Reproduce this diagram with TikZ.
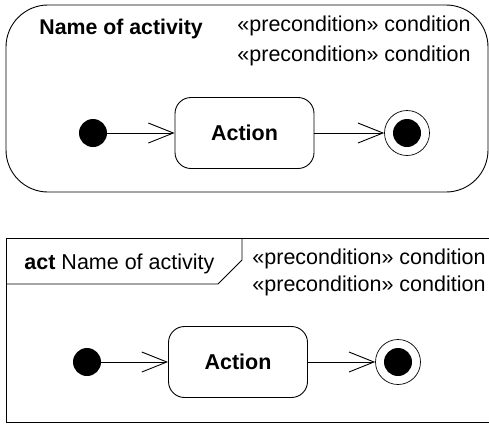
\documentclass[tikz,border=0pt]{standalone}
\usepackage{fontspec}
\setmainfont{Liberation Sans}
\usetikzlibrary{arrows.meta}

\begin{document}
\begin{tikzpicture}[x=1pt,y=-1pt,>={Straight Barb[length=25pt,width=20pt]},
  line width=0.9pt,
  txt/.style={font=\fontsize{21.5}{26}\selectfont,inner sep=0pt},
  startdot/.style={circle,fill,minimum size=28pt,inner sep=0pt},
  enddot/.style={circle,draw,line width=0.7pt,minimum size=45pt,inner sep=0pt,
    path picture={\fill (path picture bounding box.center) circle (14pt);}},
  actbox/.style={draw,rounded corners=16pt,minimum width=139pt,minimum height=71pt,
    font=\fontsize{21.5}{26}\selectfont\bfseries}]
  \useasboundingbox (0,0) rectangle (489,424);
  \draw[rounded corners=42pt] (6,5) rectangle (488,192);
  \node[txt,font=\fontsize{21.3}{26}\selectfont\bfseries,anchor=base west] (nameA)
    at (39,34) {Name of activity};
  \node[txt,anchor=base west] (preA1) at (237,31) {«precondition» condition};
  \node[txt,anchor=base west] (preA2) at (237,61) {«precondition» condition};
  \node[startdot] (startA) at (93,133) {};
  \node[actbox] (actA) at (244.5,133) {Action};
  \node[enddot] (endA) at (407,133) {};
  \draw[->] (startA) -- (actA);
  \draw[->] (actA) -- (endA);
  \draw (492,238) -- (6,238) -- (6,422) -- (492,422);
  \draw (6,284) -- (218,284) -- (242,260) -- (242,238);
  \node[txt,anchor=base west] (nameB) at (24,269) {\textbf{act} Name of activity};
  \node[txt,anchor=base west] (preB1) at (252,264) {«precondition» condition};
  \node[txt,anchor=base west] (preB2) at (252,291) {«precondition» condition};
  \node[startdot] (startB) at (87,362) {};
  \node[actbox] (actB) at (238,362) {Action};
  \node[enddot] (endB) at (398,362) {};
  \draw[->] (startB) -- (actB);
  \draw[->] (actB) -- (endB);
\end{tikzpicture}
\end{document}
